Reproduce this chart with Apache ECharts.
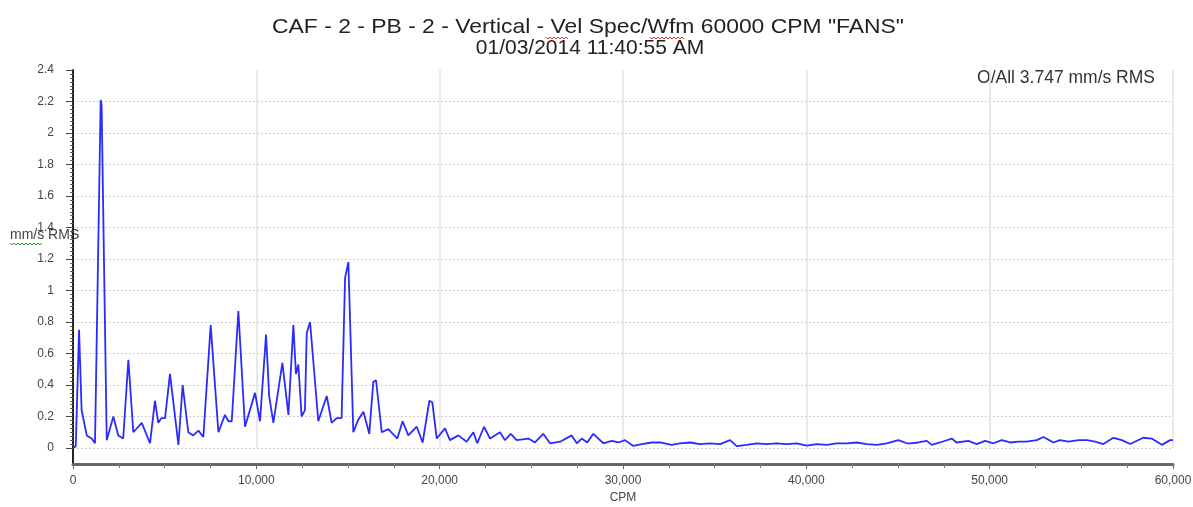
<!DOCTYPE html>
<html>
<head>
<meta charset="utf-8">
<script src="https://cdn.jsdelivr.net/npm/echarts@6/dist/echarts.min.js"></script>
<style>
html,body{margin:0;padding:0;background:#fff;}
#chart{width:1193px;height:507px;}
</style>
</head>
<body>
<div id="chart"></div>
<script>
const titleLine1 = 'CAF - 2 - PB - 2 - Vertical - Vel Spec/Wfm 60000 CPM "FANS"';
const titleLine2 = '01/03/2014 11:40:55 AM';
const yAxisName = 'mm/s RMS';
const xAxisName = 'CPM';
const overallText = 'O/All 3.747 mm/s RMS';

const cpm = [0,150,330,470,750,1020,1200,1510,1560,1840,2200,2470,2740,3020,3290,3750,4200,4470,4650,4830,5020,5290,5750,5980,6290,6560,6840,7110,7510,7930,8290,8480,8660,9020,9380,9930,10200,10530,10700,10930,11420,11750,12020,12160,12290,12470,12650,12750,12930,13380,13840,14110,14380,14650,14840,15020,15290,15560,15840,16160,16380,16530,16840,17200,17690,17980,18290,18750,19070,19440,19600,19840,20290,20560,21020,21470,21840,22050,22420,22750,23290,23560,23880,24200,24840,25200,25650,26020,26570,27200,27480,27750,28050,28380,28930,29380,29750,30110,30560,31020,31570,32020,32660,33110,33660,34200,34750,35300,35840,36200,36750,37300,37840,38390,38930,39480,40020,40570,41110,41660,42200,42750,43300,43840,44390,45020,45480,45650,46110,46570,46840,47290,47930,48200,48840,49290,49750,50200,50660,51110,51570,52020,52570,52930,53480,53840,54300,54840,55300,55750,56200,56750,57210,57660,58380,58840,59390,59840,60000];
const amp = [0.0,0.01,0.75,0.24,0.08,0.06,0.03,2.21,2.18,0.05,0.2,0.08,0.06,0.56,0.10,0.16,0.03,0.30,0.16,0.19,0.19,0.47,0.02,0.40,0.10,0.08,0.11,0.07,0.78,0.10,0.21,0.17,0.17,0.87,0.135,0.35,0.17,0.72,0.33,0.16,0.54,0.21,0.78,0.47,0.53,0.20,0.24,0.73,0.80,0.17,0.33,0.16,0.19,0.19,1.08,1.18,0.10,0.18,0.23,0.09,0.42,0.43,0.10,0.12,0.06,0.17,0.08,0.135,0.035,0.30,0.29,0.06,0.125,0.05,0.08,0.04,0.10,0.03,0.135,0.06,0.10,0.05,0.09,0.05,0.06,0.035,0.09,0.03,0.04,0.08,0.03,0.06,0.035,0.09,0.03,0.045,0.035,0.05,0.013,0.025,0.035,0.035,0.02,0.03,0.035,0.025,0.03,0.025,0.05,0.012,0.02,0.03,0.025,0.03,0.025,0.03,0.015,0.025,0.02,0.03,0.03,0.035,0.025,0.02,0.03,0.05,0.03,0.03,0.035,0.045,0.02,0.035,0.06,0.035,0.045,0.025,0.045,0.03,0.05,0.035,0.04,0.04,0.05,0.07,0.035,0.05,0.04,0.05,0.05,0.04,0.025,0.065,0.05,0.025,0.065,0.06,0.02,0.05,0.05];

const xTickStep = 10000;
const yTickStep = 0.2;

const chart = echarts.init(document.getElementById('chart'), null, {renderer:'canvas'});
const FONT = '"Liberation Sans", Arial, sans-serif';

function wavy(x0, x1, y, color){
  const pts = [];
  let up = true;
  for (let x = x0; x <= x1; x += 2){ pts.push([x, up ? y : y + 2]); up = !up; }
  return {type:'polyline', shape:{points:pts}, style:{stroke:color, lineWidth:1, fill:null}, silent:true, z:10};
}

chart.setOption({
  animation:false,
  backgroundColor:'#ffffff',
  grid:{left:73, right:20, top:70, bottom:59, containLabel:false, outerBoundsMode:'none'},
  xAxis:{
    type:'value', min:0, max:60000, interval:xTickStep,
    offset:16,
    name:xAxisName, nameLocation:'middle', nameGap:28,
    nameTextStyle:{fontFamily:FONT, fontSize:12, color:'#444'},
    axisLine:{show:true, onZero:false, lineStyle:{color:'#666', width:3}},
    axisTick:{show:true, length:5, lineStyle:{color:'#666'}},
    minorTick:{show:true, splitNumber:4, length:4, lineStyle:{color:'#777'}},
    axisLabel:{fontFamily:FONT, fontSize:12, color:'#444', margin:11,
      formatter:v=>v.toLocaleString('en-US')},
    splitLine:{show:true, lineStyle:{color:'#e2e2e2', width:1.5, type:'solid'}}
  },
  yAxis:{
    type:'value', min:0, max:2.4, interval:yTickStep,
    axisLine:{show:true, onZero:false, lineStyle:{color:'#222', width:2}},
    axisTick:{show:true, length:7, lineStyle:{color:'#444'}},
    minorTick:{show:true, splitNumber:8, length:3, lineStyle:{color:'#666'}},
    axisLabel:{fontFamily:FONT, fontSize:12, color:'#444', margin:19,
      formatter:v=>String(Math.round(v*10)/10)},
    splitLine:{show:true, showMaxLine:false, lineStyle:{color:'#cfcfcf', width:1, type:[2,2]}}
  },
  graphic:[
    {type:'text', x:588, y:27, scaleX:1.09, scaleY:1,
      style:{text:titleLine1, font:'21px '+FONT, fill:'#222', align:'center', verticalAlign:'middle'}, silent:true},
    {type:'text', x:590, y:48,
      style:{text:titleLine2, font:'21px '+FONT, fill:'#222', align:'center', verticalAlign:'middle'}, silent:true},
    {type:'line', shape:{x1:73, y1:447, x2:73, y2:465}, style:{stroke:'#222', lineWidth:2}, silent:true},
    {type:'text', left:10, top:228, style:{text:yAxisName, font:'14px '+FONT, fill:'#444'}, silent:true},
    {type:'text', right:38, top:69, style:{text:overallText, font:'17.5px '+FONT, fill:'#333'}, silent:true},
    wavy(10, 42, 243, '#2a9a2a'),
    wavy(546, 568, 37, '#e03030'),
    wavy(650, 684, 37, '#e03030')
  ],
  series:[{
    type:'line',
    data: cpm.map((c,i)=>[c, amp[i]]),
    showSymbol:false,
    smooth:false,
    lineStyle:{color:'#2b2bff', width:1.8},
    itemStyle:{color:'#2b2bff'},
    clip:false
  }]
});
</script>
</body>
</html>
